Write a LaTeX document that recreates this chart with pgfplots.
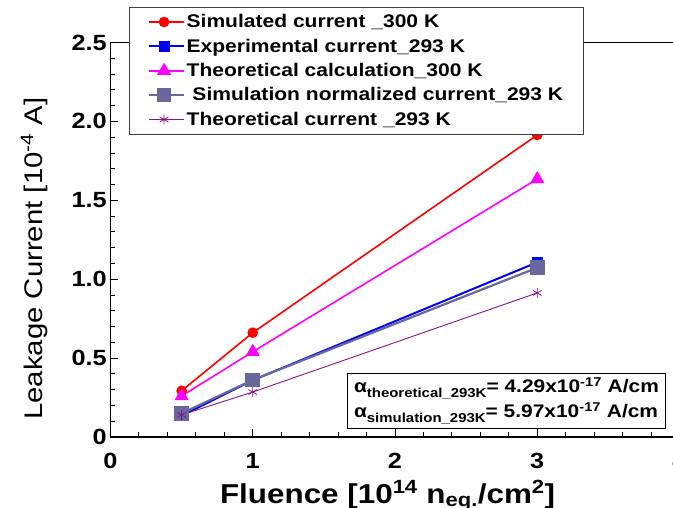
\documentclass[border=0pt]{standalone}
\usepackage{fontspec}
\setmainfont{Liberation Sans}[FakeStretch=1.15]
\usepackage{pgfplots}
\pgfplotsset{compat=1.18}

\definecolor{simred}{RGB}{255,0,0}
\definecolor{expblue}{RGB}{0,0,255}
\definecolor{theomag}{RGB}{255,0,255}
\definecolor{normslate}{RGB}{104,104,156}
\definecolor{theopurple}{RGB}{136,20,136}

\newcommand{\lowsub}[1]{\raisebox{-0.28em}{\fontsize{13}{13}\selectfont #1}}

\begin{document}
\begin{tikzpicture}
\begin{axis}[
  at={(110.5pt,70pt)}, anchor=south west,
  scale only axis, width=569pt, height=394.5pt,
  xmin=0, xmax=4, ymin=0, ymax=2.5,
  xtick={0,1,2,3,4}, xticklabels={0,1,2,3,4},
  ytick={0,0.5,1,1.5,2,2.5}, yticklabels={0,0.5,1.0,1.5,2.0,2.5},
  minor x tick num=4, minor y tick num=4,
  tick align=inside, xtick pos=left, ytick pos=left,
  major tick length=8pt, minor tick length=4.5pt,
  axis line style={line width=1.1pt},
  every tick/.style={black, line width=0.9pt},
  /pgf/number format/assume math mode=true,
  ticklabel style={font=\fontsize{22}{22}\selectfont\bfseries},
  xticklabel style={anchor=base, yshift=-31pt, inner sep=0pt},
  yticklabel style={anchor=east, inner sep=0pt, xshift=-3.5pt},
  xlabel={Fluence [10\textsuperscript{14} n\textsubscript{eq.}/cm\textsuperscript{2}]},
  ylabel={Leakage Current [10\textsuperscript{-4} A]},
  xlabel style={at={(rel axis cs:0.487,0)}, anchor=base, yshift=-66pt,
    font=\fontsize{27.3}{27.3}\selectfont\bfseries},
  ylabel style={at={(rel axis cs:-0.134,0.452)}, anchor=center,
    font=\fontsize{25.5}{25.5}\selectfont},
  legend cell align=left,
  legend image code/.code={
    \draw[mark repeat=2,mark phase=2,#1]
      plot coordinates {(0pt,0pt) (15.5pt,0pt) (31pt,0pt)};
    \path (0pt,0pt) -- (35pt,0pt);},
  legend style={at={(rel axis cs:0.0325,1.0908)}, anchor=north west,
    draw=black!75, line width=0.9pt, fill=white,
    font=\fontsize{18.3}{18.3}\selectfont\bfseries,
    inner xsep=18pt, inner ysep=5.5pt, row sep=5.6pt},
]
\addplot[simred, line width=1.6pt, mark=*, mark size=4.5pt]
  coordinates {(0.5,0.293) (1,0.661) (3,1.914)};
\addlegendentry{Simulated current \_300 K}
\addplot[expblue, line width=2pt, mark=square*, mark size=4.5pt]
  coordinates {(0.5,0.135) (1,0.36) (3,1.107)};
\addlegendentry{Experimental current\_293 K}
\addplot[theomag, line width=1.6pt, mark=triangle*, mark size=6.5pt]
  coordinates {(0.5,0.26) (1,0.54) (3,1.635)};
\addlegendentry{Theoretical calculation\_300 K}
\addplot[normslate, line width=2.2pt, mark=square*, mark size=6.2pt]
  coordinates {(0.5,0.15) (1,0.361) (3,1.073)};
\addlegendentry{\ Simulation normalized current\_293 K}
\addplot[theopurple, line width=0.9pt, mark=asterisk, mark size=5pt,
    mark options={line width=0.8pt}]
  coordinates {(0.5,0.14) (1,0.285) (3,0.913)};
\addlegendentry{Theoretical current \_293 K}

\node[draw=black, line width=1pt, fill=white, anchor=north west,
  align=left, minimum width=318pt, inner xsep=3pt,
  minimum height=55pt,
  font=\fontsize{18.2}{25}\selectfont\bfseries]
  at (rel axis cs:0.4156,0.1622)
  {α\lowsub{theoretical\_293K}= 4.29x10\textsuperscript{-17} A/cm\\
   α\lowsub{simulation\_293K}= 5.97x10\textsuperscript{-17} A/cm};
\end{axis}
\pgfresetboundingbox
\path[use as bounding box] (0,0) rectangle (673pt,507pt);
\end{tikzpicture}
\end{document}
